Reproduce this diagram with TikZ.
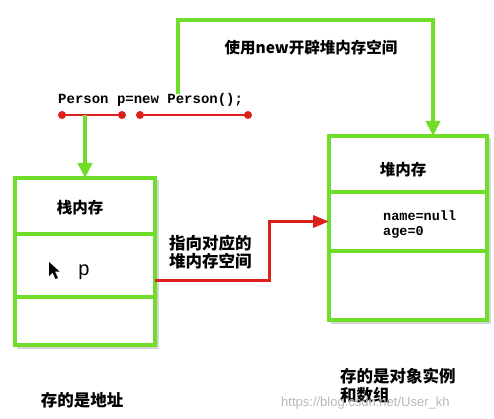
\documentclass[tikz,border=0pt]{standalone}
\usepackage{fontspec}
\setmainfont{Liberation Sans}
\newfontfamily\cjk{Noto Sans CJK SC}
\newfontfamily\code{Liberation Mono}
\usetikzlibrary{arrows.meta}
\definecolor{gline}{RGB}{112,222,40}
\definecolor{rline}{RGB}{222,32,28}
\tikzset{
  cell/.style={draw=gline, line width=4pt, inner sep=0pt, outer sep=0pt, anchor=north west},
  garrow/.style={draw=gline, line width=4pt, -{Triangle[length=15pt,width=14pt]}},
  rarrow/.style={draw=rline, line width=3pt, -{Triangle[length=16pt,width=12pt]}},
  uline/.style={draw=rline, line width=2.5pt},
  dot/.style={circle, fill=rline, inner sep=0pt, minimum size=8pt},
  cn/.style={font=\cjk\bfseries\fontsize{15.5}{18}\selectfont, inner sep=0pt},
  cnb/.style={font=\cjk\bfseries\fontsize{16.5}{18.5}\selectfont, inner sep=0pt, align=left},
  cd/.style={font=\code\bfseries\fontsize{14}{16}\selectfont, inner sep=0pt},
  shadowbox/.style={fill=black, opacity=0.16}
}
\begin{document}
\begin{tikzpicture}[x=1pt,y=-1pt]
\useasboundingbox (0,0) rectangle (494,419);
\fill[white] (0,0) rectangle (494,419);
% shadows
\fill[shadowbox] (17,180) rectangle (159,349);
\fill[shadowbox] (331,138) rectangle (491,324);
\fill[white] (15,178) rectangle (155,345);
\fill[white] (329,136) rectangle (487,320);
% stack cells
\node[cell, minimum width=140pt, minimum height=56pt] (s1) at (15,178) {};
\node[cell, minimum width=140pt, minimum height=63pt] (s2) at (15,234) {};
\node[cell, minimum width=140pt, minimum height=48pt] (s3) at (15,297) {};
% heap cells
\node[cell, minimum width=158pt, minimum height=56pt] (h1) at (329,136) {};
\node[cell, minimum width=158pt, minimum height=59pt] (h2) at (329,192) {};
\node[cell, minimum width=158pt, minimum height=69pt] (h3) at (329,251) {};
% code
\node[cd, anchor=west] (code) at (58,100) {Person p=new Person();};
\coordinate (u1a) at (62,115);
\coordinate (u1b) at (122,115);
\coordinate (u2a) at (140,115);
\coordinate (u2b) at (248,115);
\draw[uline] (u1a) -- (u1b);
\draw[uline] (u2a) -- (u2b);
\node[dot] (d1) at (u1a) {};
\node[dot] (d2) at (u1b) {};
\node[dot] (d3) at (u2a) {};
\node[dot] (d4) at (u2b) {};
% green arrows
\draw[garrow] (s1.north |- u1a) -- (s1.north);
\coordinate (g0) at (178,94);
\coordinate (g1) at (433,20);
\draw[garrow] (g0) -- (178,20) -- (g1) -- (g1 |- h1.north);
\node[cn] (t1) at (311,48) {使用new开辟堆内存空间};
% red arrow
\coordinate (r1) at (269,280);
\draw[rarrow] (s2.east |- r1) -- (r1) |- (h2.west);
\node[cnb, anchor=west] (t2) at (169,252) {指向对应的\\堆内存空间};
% labels in boxes
\node[cn] (sl) at (80,208) {栈内存};
\node[font=\fontsize{20}{22}\selectfont, inner sep=0pt] (p) at (84,272) {p};
\fill[black] (49,262) -- (49,276) -- (52.5,272.5) -- (55.5,279) -- (58,278) -- (55,271.5) -- (59.5,271.5) -- cycle;
\node[cn] (hl) at (403,170) {堆内存};
\node[cd, anchor=west, align=left, font=\code\bfseries\fontsize{13.5}{15}\selectfont] (fields) at (383,225) {name=null\\age=0};
% bottom captions
\node[cnb] (c1) at (82,400) {存的是地址};
\node[cnb, anchor=north west] (c2) at (340,368) {存的是对象实例\\和数组};
\node[font=\fontsize{13}{15}\selectfont, text=black!28, anchor=west, inner sep=0pt] (wm) at (281,403) {https://blog.csdn.net/User\_kh};
\end{tikzpicture}
\end{document}
